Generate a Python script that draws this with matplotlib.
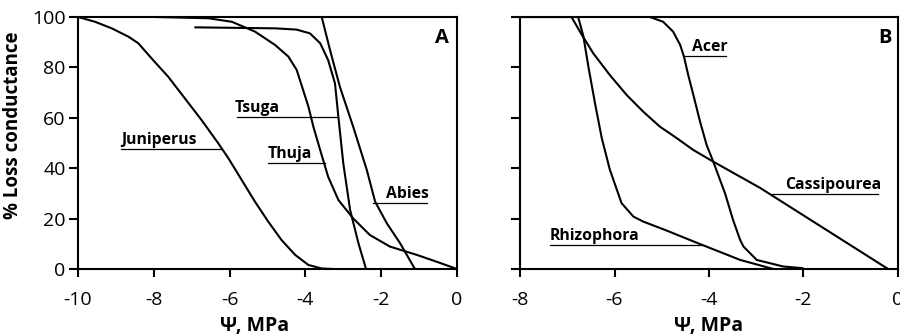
import numpy as np
import matplotlib.pyplot as plt

plt.rcParams['font.family'] = ['Open Sans', 'DejaVu Sans']
plt.rcParams['axes.unicode_minus'] = False

# panel A (conifers)
juniperus_x = [-10, -9.55, -9.11, -8.67, -8.41, -8.06, -7.62, -7.18, -6.74, -6.30, -6.03,
               -5.68, -5.33, -4.98, -4.63, -4.27, -3.92, -3.57, -3.26]
juniperus_y = [100, 98.1, 95.5, 92.2, 89.6, 83.6, 76.3, 67.7, 59.1, 49.9, 43.9,
               35.3, 26.7, 18.8, 11.5, 5.6, 1.6, 0.2, 0]

thuja_x = [-7.97, -6.56, -5.94, -5.33, -4.80, -4.45, -4.23, -4.06, -3.92, -3.79, -3.61,
           -3.40, -3.13, -2.74, -2.30, -1.77, -1.06, -0.54, 0]
thuja_y = [100, 99.5, 98.1, 94.2, 88.9, 84.3, 79, 71, 64.4, 56.5, 47.2,
           36.6, 27.4, 20.1, 13.5, 8.9, 5.6, 2.9, 0]

tsuga_x = [-6.93, -4.80, -4.23, -3.88, -3.61, -3.40, -3.22, -3.13, -3.00, -2.82, -2.60, -2.40]
tsuga_y = [95.9, 95.5, 95.0, 93.5, 89.6, 82.9, 73.7, 60.4, 41.9, 23.4, 10.2, 0]

abies_x = [-3.57, -3.35, -3.09, -2.74, -2.38, -2.16, -1.85, -1.50, -1.11]
abies_y = [100, 86.9, 72.3, 56.5, 39.3, 26.7, 18.1, 10.2, 0]

# panel B (angiosperms)
rhizophora_x = [-8.0, -6.77, -6.66, -6.55, -6.41, -6.27, -6.10, -5.85, -5.60, -5.39,
                -4.93, -4.23, -3.34, -2.64]
rhizophora_y = [100, 100, 92.5, 80, 65.5, 52, 39.5, 26.1, 20.8, 18.8,
                15.5, 10.2, 3.6, 0]

cassipourea_x = [-8.0, -6.91, -6.69, -6.45, -6.10, -5.74, -5.39, -5.04, -4.68, -4.33,
                 -3.91, -2.92, -0.21]
cassipourea_y = [100, 100, 92.9, 85.6, 77.0, 69.0, 62.4, 56.5, 51.9, 47.2,
                 42.6, 32.2, 0]

acer_x = [-5.25, -4.97, -4.76, -4.61, -4.53, -4.44, -4.33, -4.19, -4.05, -3.91, -3.66,
          -3.49, -3.34, -3.27, -2.99, -2.43, -2.0]
acer_y = [100, 98.1, 94.2, 88.9, 84.3, 77, 69, 58.5, 49.2, 42.6, 30,
          19.4, 11.5, 8.9, 3.6, 1.0, 0.3]

# labels: text, text x, underline start x, underline end x, underline y
labels_a = [("Juniperus", -8.87, -8.87, -6.21, 47.5),
            ("Tsuga", -5.86, -5.80, -3.13, 60.4),
            ("Thuja", -5.0, -4.98, -3.48, 41.9),
            ("Abies", -1.87, -2.21, -0.78, 26.1)]
labels_b = [("Acer", -4.35, -4.55, -3.65, 84.5),
            ("Cassipourea", -2.39, -2.67, -0.43, 29.6),
            ("Rhizophora", -7.37, -7.37, -4.12, 9.5)]

fig = plt.figure(figsize=(9, 3.36), dpi=100)
ax_a = fig.add_axes([78 / 900, 1 - 269 / 336, 379 / 900, 252 / 336])
ax_b = fig.add_axes([520 / 900, 1 - 269 / 336, 378 / 900, 252 / 336])

lw = 1.5
for xs, ys in [(juniperus_x, juniperus_y), (thuja_x, thuja_y),
               (tsuga_x, tsuga_y), (abies_x, abies_y)]:
    ax_a.plot(xs, ys, color="black", lw=lw, solid_capstyle="butt", solid_joinstyle="round")
for xs, ys in [(rhizophora_x, rhizophora_y), (cassipourea_x, cassipourea_y),
               (acer_x, acer_y)]:
    ax_b.plot(xs, ys, color="black", lw=lw, solid_capstyle="butt", solid_joinstyle="round")

def add_labels(ax, labels):
    for name, tx, x0, x1, y in labels:
        ax.plot([x0, x1], [y, y], color="black", lw=0.9)
        ax.text(tx, y + 2.0, name, fontsize=11.3, fontweight="bold",
                ha="left", va="baseline")

add_labels(ax_a, labels_a)
add_labels(ax_b, labels_b)

ax_a.set_xlim(-10, 0)
ax_b.set_xlim(-8, 0)
for ax in (ax_a, ax_b):
    ax.set_ylim(0, 100)
    ax.set_yticks([0, 20, 40, 60, 80, 100])
    for s in ax.spines.values():
        s.set_linewidth(1.5)
    ax.tick_params(axis="x", direction="out", length=6, width=1.5, labelsize=14, pad=10)
    ax.tick_params(axis="y", direction="out", length=6.5, width=1.5, labelsize=14, pad=2.5)

ax_a.set_xticks([-10, -8, -6, -4, -2, 0])
ax_b.set_xticks([-8, -6, -4, -2, 0])
ax_b.set_yticklabels([])

ax_a.text(0.979, 0.898, "A", transform=ax_a.transAxes, fontsize=14.5,
          fontweight="bold", ha="right", va="baseline")
ax_b.text(0.984, 0.898, "B", transform=ax_b.transAxes, fontsize=14.5,
          fontweight="bold", ha="right", va="baseline")

ax_a.set_ylabel("% Loss conductance", fontsize=13.5, fontweight="bold")
ax_a.yaxis.set_label_coords(-0.145, 0.571)
ax_a.set_xlabel("Ψ, MPa", fontsize=14, fontweight="bold")
ax_a.xaxis.set_label_coords(0.467, -0.185)
ax_b.set_xlabel("Ψ, MPa", fontsize=14, fontweight="bold")
ax_b.xaxis.set_label_coords(0.5, -0.185)

fig.savefig("out.png", dpi=100)
